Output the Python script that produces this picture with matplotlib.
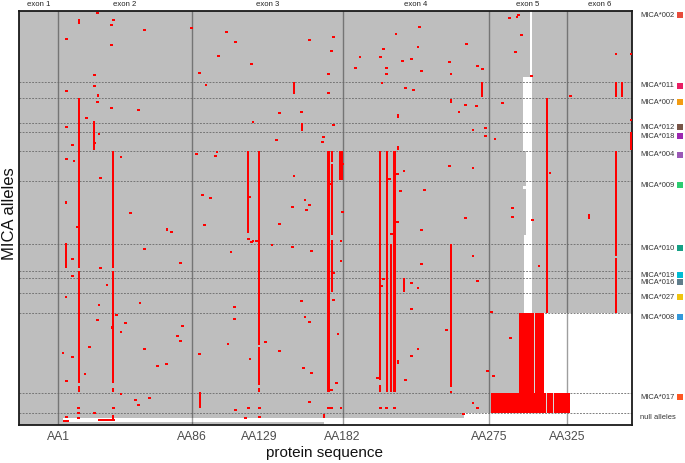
import matplotlib
matplotlib.use('Agg')
import matplotlib.pyplot as plt
from matplotlib.transforms import blended_transform_factory

plt.rcParams['font.family'] = ['Liberation Sans', 'DejaVu Sans']

# ---------------- data ----------------
# allele groups: name, first row (rows counted from the top), colour
group_names = ['MICA*002', 'MICA*011', 'MICA*007', 'MICA*012', 'MICA*018', 'MICA*004',
               'MICA*009', 'MICA*010', 'MICA*019', 'MICA*016', 'MICA*027', 'MICA*008',
               'MICA*017', 'null alleles']
group_start = [0, 35.3, 43.7, 56.2, 60.7, 69.9, 85.2, 116.7, 130.2, 133.7, 141.2, 151.2,
               191.2, 201.2]
group_colors = ['#E74C3C', '#E91E63', '#F39C12', '#795548', '#9C27B0', '#9B59B6',
                '#2ECC71', '#16A085', '#00BCD4', '#607D8B', '#F1C40F', '#3498DB',
                '#FF5722', None]
n_rows = 207

# exons (boundaries in amino-acid positions)
exon_names = ['exon 1', 'exon 2', 'exon 3', 'exon 4', 'exon 5', 'exon 6']
exon_bounds = [-24, 1, 86, 182, 275, 325, 366.2]
tick_positions = [1, 86, 129, 182, 275, 325]
tick_labels = ['AA1', 'AA86', 'AA129', 'AA182', 'AA275', 'AA325']

# single amino-acid differences: (position, allele row)
mut_points = [
    (26, 1), (36, 4.5), (35, 7), (6, 14), (35, 17), (24, 32), (24, 37.5), (6, 40), (26, 45.5),
    (35, 48.5), (52, 49.5), (19, 53.5), (6, 58), (27, 61.5), (24, 66), (10, 67), (6, 74),
    (11, 75), (41, 73), (28, 83.5), (47, 101), (13, 108), (10, 124), (28, 128.5), (10, 132.5),
    (32, 137), (53, 146), (27, 147), (38, 152), (26, 154.5), (44, 156), (41, 160.5), (21, 168),
    (4, 171), (10, 173), (18, 181.5), (6, 185), (41, 191.5), (50, 194.5), (52, 197), (14, 198.5),
    (36, 198.5), (24, 201), (14, 201), (6, 203), (14, 203.5),
    (56, 9.5), (86, 8.5), (108, 10.5), (114, 15.5), (103, 22.5), (124, 26.5), (91, 31), (95, 37),
    (125, 55.5), (89, 71.5), (102, 70.5), (101, 72.5), (123, 93), (93, 92), (98, 93.5), (94, 107),
    (73, 110.5), (122, 114), (124, 115.5), (125, 115), (127, 115), (56, 119), (111, 120.5),
    (79, 126), (113, 148), (113, 154), (80, 157.5), (77, 162.5), (79, 165), (109, 166.5),
    (56, 169), (91, 171.5), (64, 177.5), (70, 176.5), (59, 193.5), (114, 199.5), (122, 198.5),
    (129, 198.5), (120, 203.5),
    (161, 14.5), (176, 13), (175, 20), (193, 23), (206, 23), (190, 28.5), (173, 31.5), (173, 41),
    (142, 51), (156, 50.5), (176, 57), (140, 64.5), (170, 63), (169, 65.5), (182, 76.5),
    (175, 86.5), (151, 82.5), (158, 94.5), (161, 97), (150, 98), (159, 99.5), (182, 100.5),
    (142, 106.5), (181, 115), (137, 117), (150, 118), (162, 120), (181, 125), (176, 131),
    (156, 145), (176, 144.5), (158, 153), (161, 155.5), (179, 161.5), (133, 165.5), (142, 170),
    (157, 178.5), (162, 181), (178, 186), (175, 189.5), (204, 183.5), (161, 195.5), (173, 198.5),
    (175, 198.5), (181, 198.5), (129, 203),
    (231, 8), (216, 11.5), (208, 19), (230, 18), (261, 16.5), (220, 25), (226, 24), (250, 25.5),
    (210, 28.5), (210, 31.5), (232, 30), (251, 31.5), (268, 27.5), (271, 29), (207, 36),
    (222, 38.5), (227, 39.5), (260, 47), (267, 47.5), (256, 50.5), (265, 59.5), (273, 58.5),
    (273, 62.5), (279, 64), (250, 77.5), (265, 78.5), (221, 80), (217, 81.5), (212, 84),
    (234, 89.5), (219, 90), (260, 103.5), (217, 105.5), (232, 109.5), (213, 111.5), (265, 122.5),
    (232, 126.5), (268, 135), (208, 134), (207, 137.5), (226, 136), (230, 138.5), (226, 149),
    (277, 150.5), (248, 159.5), (230, 169), (226, 172.5), (274, 180), (278, 182.5), (222, 184.5),
    (251, 190.5), (265, 196), (268, 198.5), (206, 198.5), (210, 198.5), (215, 198.5), (259, 201.5),
    (288, 3.5), (293, 3), (294, 2), (296, 12), (292, 20.5), (356, 21.5), (366, 21.5), (302, 32.5),
    (327, 42.5), (284, 46), (366, 54.5), (314, 81), (290, 98.5), (290, 103), (303, 104.5),
    (307, 127.5), (289, 163.5),
]

# differences shared by consecutive alleles: (position, first row, last row)
mut_runs = [
    (14, 4, 6.5), (26, 41.5, 43), (14, 43.7, 128.7), (14, 129.9, 186.2), (14, 187.4, 190.4),
    (24, 55, 69.5), (36, 69.9, 128.7), (36, 129.9, 186.2), (36, 188.4, 190.4), (6, 95, 96.5),
    (6, 116.2, 128.7), (6, 142.5, 143.7), (35, 157.4, 159.2), (36, 202, 204.5),
    (122, 69.9, 110.9), (129, 69.9, 167), (129, 167.9, 187), (129, 188.4, 190.4),
    (70, 108.7, 110), (123, 173.4, 174.7), (91, 190.7, 198.4),
    (151, 35.3, 41.4), (156, 56, 59.9), (173, 69.9, 190.4), (175, 69.9, 75.5),
    (175, 76.5, 112), (175, 114.5, 140.3), (206, 69.9, 184.5), (206, 187, 190.4),
    (210, 69.9, 190.4), (213, 116.7, 190.4), (251, 116.7, 188), (271, 35.3, 43),
    (251, 44, 46), (217, 51.5, 53.5), (217, 67.5, 69.5), (221, 133.5, 140.5), (217, 174.7, 176.4),
    (312, 43.7, 151.2), (356, 35.3, 43), (360, 35.3, 43), (356, 69.9, 122.5),
    (356, 123.5, 151.2), (339, 101.7, 104), (170, 201.5, 203.5),
]
# broader runs (two adjacent positions)
mut_runs_wide = [(181, 69.9, 84.5), (215, 69.9, 190.4), (366, 60.7, 69.5)]

# truncated / differing blocks: (first pos, last pos, first row, last row)
red_blocks = [(294.5, 310.5, 151.2, 191.2), (276.5, 326.5, 191.2, 201.2)]
red_hspans = [(4, 8, 205), (26, 37, 204.5)]
# positions without sequence information: (first pos, last pos, first row, last row)
no_data = [
    (301.5, 302.5, -0.2, 32.8), (296.5, 302.5, 32.8, 69.9), (298.5, 302.5, 69.9, 151.2),
    (297.5, 302.5, 112, 151.2), (296.5, 298.5, 87.5, 89),
    (310.5, 367, 151.2, 191.2), (326.5, 367, 191.2, 201.2), (259, 367, 201.2, 207),
    (4, 259, 203.7, 205.3), (170, 259, 205.3, 207), (298.5, 301.5, 197.5, 199.2),
]
light_gaps = [(304, 151.2, 191.2), (311.5, 191.2, 201.2), (316, 191.2, 201.2)]

# ---------------- plot ----------------
fig = plt.figure(figsize=(6.85, 4.63), dpi=100)
ax = fig.add_axes([19 / 685, 1 - 425 / 463, 613 / 685, 414.3 / 463])
ax.set_facecolor('#BEBEBE')
ax.set_xlim(exon_bounds[0], exon_bounds[-1])
ax.set_ylim(n_rows, -0.15)

RED = '#FF0000'
for a0, a1, r0, r1 in no_data:
    ax.bar((a0 + a1) / 2, r1 - r0, width=a1 - a0, bottom=r0, color='white',
           linewidth=0, zorder=1)

for b in exon_bounds[1:-1]:
    ax.axvline(b, color='black', alpha=0.38, lw=1.0, zorder=2)
for s in group_start[1:]:
    ax.axhline(s, color='#6A6A6A', lw=0.6, ls=(0, (2.2, 1.6)), zorder=2)

for a0, a1, r0, r1 in red_blocks:
    ax.bar((a0 + a1) / 2, r1 - r0, width=a1 - a0, bottom=r0, color=RED,
           linewidth=0, zorder=3)
for p, r0, r1 in light_gaps:
    ax.bar(p, r1 - r0, width=0.7, bottom=r0, color='#D8D8D8', linewidth=0, zorder=4)
for a0, a1, r in red_hspans:
    ax.bar((a0 + a1) / 2, 1.2, width=a1 - a0, bottom=r - 0.6, color=RED, linewidth=0, zorder=4)

for p, r0, r1 in mut_runs:
    ax.bar(p, r1 - r0, width=1.3, bottom=r0, color=RED, linewidth=0, zorder=4)
for p, r0, r1 in mut_runs_wide:
    ax.bar(p, r1 - r0, width=2.0, bottom=r0, color=RED, linewidth=0, zorder=4)
for p, r in mut_points:
    ax.bar(p, 1.45, width=1.75, bottom=r - 0.72, color=RED, linewidth=0, zorder=4)

# axes styling
for sp in ax.spines.values():
    sp.set_color('#1A1A1A')
    sp.set_linewidth(1.3)
ax.set_yticks([])
ax.set_xticks(tick_positions)
ax.set_xticklabels(tick_labels)
ax.tick_params(axis='x', length=0, labelsize=8.8, labelcolor='#4D4D4D', pad=4.5)

trans = blended_transform_factory(ax.transAxes, ax.transData)
transx = blended_transform_factory(ax.transData, ax.transAxes)
for i, name in enumerate(exon_names):
    xc = (exon_bounds[i] + exon_bounds[i + 1]) / 2
    ax.text(xc, 1.016, name, transform=transx, ha='center', va='center',
            fontsize=5.6, color='#222222')

for name, s, c in zip(group_names, group_start, group_colors):
    ax.text(1.0135, s + 2, name, transform=trans, ha='left', va='center',
            fontsize=5.4, color='#333333', clip_on=False)
    if c is not None:
        ax.scatter([1.078], [s + 2], marker='s', s=16, color=c, transform=trans,
                   clip_on=False, linewidths=0)

fig.text(10 / 685, 1 - 214 / 463, 'MICA alleles', rotation=90, ha='center', va='center',
         fontsize=12, color='#111111')
fig.text(325 / 685, 1 - 453 / 463, 'protein sequence', ha='center', va='center',
         fontsize=11, color='#111111')

fig.savefig('out.png', dpi=100)
